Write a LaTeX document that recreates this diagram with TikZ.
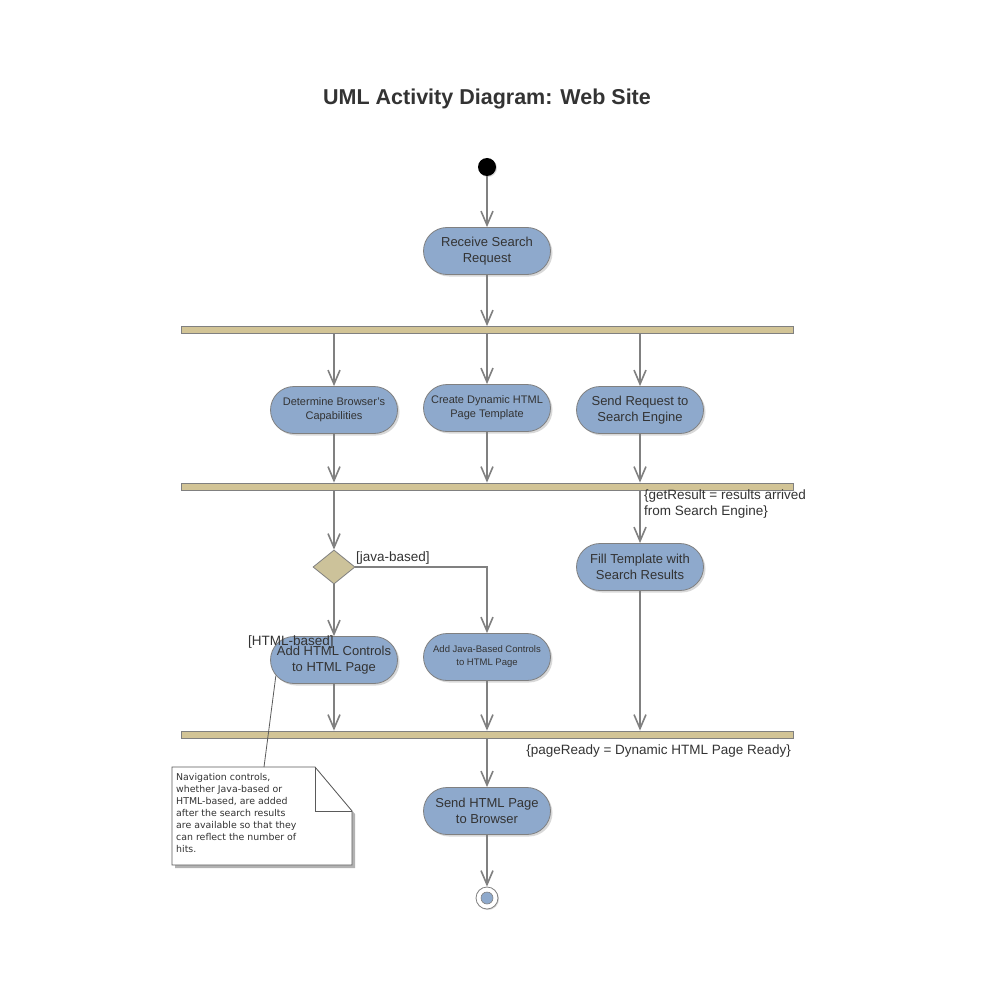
\documentclass[tikz,border=0pt]{standalone}
\usepackage{fontspec}
\setmainfont{Liberation Sans}
\newfontfamily\notefont{DejaVu Sans}
\usetikzlibrary{arrows.meta,shapes.misc,shapes.geometric,shadows}
\definecolor{actblue}{RGB}{142,169,204}
\definecolor{bartan}{RGB}{210,196,150}
\definecolor{dectan}{RGB}{204,194,154}
\definecolor{edgegray}{RGB}{128,128,128}
\definecolor{textgray}{RGB}{51,51,51}

\begin{document}
\begin{tikzpicture}[x=1pt,y=-1pt,
	flow/.style={draw=edgegray,line width=1.6pt,-{Straight Barb[length=14pt,width=12pt]}},
	activity/.style={rounded rectangle,draw=edgegray,line width=0.8pt,fill=actblue,
		minimum width=131pt,minimum height=47pt,inner sep=2pt,align=center,text=textgray,
		font=\fontsize{13}{16}\selectfont,
		drop shadow={opacity=0.3,shadow xshift=2pt,shadow yshift=-2pt}},
	smalltext/.style={font=\fontsize{11}{14}\selectfont},
	tinytext/.style={font=\fontsize{9.5}{13}\selectfont},
	bar/.style={rectangle,draw=edgegray,fill=bartan,minimum width=612pt,minimum height=7pt,
		inner sep=0pt,line width=0.8pt},
	guard/.style={text=textgray,inner sep=0pt,font=\fontsize{13.5}{16}\selectfont}]
	\fill[white] (0,0) rectangle (1000,1000);
	\useasboundingbox (0,0) rectangle (1000,1000);
	
	\node[text=textgray,font=\bfseries\fontsize{21.5}{24}\selectfont] (title) at (487,99) {UML Activity Diagram: Web Site};
	
	\node[circle,fill=black,minimum size=18pt,inner sep=0pt,drop shadow={opacity=0.3,shadow xshift=1pt,shadow yshift=-1pt}] (start) at (487,167) {};
	\node[activity] (receive) at (487,251) {Receive Search\\Request};
	\node[bar] (bar1) at (487,330) {};
	
	\node[activity,smalltext] (determine) at (334,410) {Determine Browser's\\Capabilities};
	\node[activity,smalltext] (create) at (487,408) {Create Dynamic HTML\\Page Template};
	\node[activity] (sendreq) at (640,410) {Send Request to\\Search Engine};
	\node[bar] (bar2) at (487,486.5) {};
	
	\node[diamond,draw=edgegray,fill=dectan,line width=0.8pt,minimum width=42pt,minimum height=34pt,inner sep=0pt,aspect=1.25] (dec) at (334,567) {};
	\node[activity] (fill) at (640,567) {Fill Template with\\Search Results};
	\node[activity] (addhtml) at (334,660) {Add HTML Controls\\to HTML Page};
	\node[activity,tinytext] (addjava) at (487,657) {Add Java-Based Controls\\to HTML Page};
	\node[bar] (bar3) at (487,734.5) {};
	
	\node[activity] (sendpage) at (487,811) {Send HTML Page\\to Browser};
	\node[circle,draw=edgegray,fill=white,line width=0.8pt,minimum size=22pt,inner sep=0pt,drop shadow={opacity=0.3,shadow xshift=1pt,shadow yshift=-1pt}] (final) at (487,898) {};
	\node[circle,draw=edgegray,fill=actblue,line width=0.6pt,minimum size=12pt,inner sep=0pt] at (final) {};
	
	\draw[flow] (start) -- (receive);
	\draw[flow] (receive) -- (receive |- bar1.north);
	\draw[flow] (bar1.south -| determine) -- (determine);
	\draw[flow] (bar1.south -| create) -- (create);
	\draw[flow] (bar1.south -| sendreq) -- (sendreq);
	\draw[flow] (determine) -- (determine |- bar2.north);
	\draw[flow] (create) -- (create |- bar2.north);
	\draw[flow] (sendreq) -- (sendreq |- bar2.north);
	\draw[flow] (bar2.south -| dec) -- (dec);
	\draw[flow] (bar2.south -| fill) -- (fill);
	\draw[flow] (dec) -- (addhtml);
	\draw[flow] (dec.east) -| (addjava);
	\draw[flow] (addhtml) -- (addhtml |- bar3.north);
	\draw[flow] (addjava) -- (addjava |- bar3.north);
	\draw[flow] (fill) -- (fill |- bar3.north);
	\draw[flow] (bar3.south -| sendpage) -- (sendpage);
	\draw[flow] (sendpage) -- (final);
	
	\node[guard,anchor=north west,align=left] (getresult) at (644,490) {\{getResult = results arrived\\from Search Engine\}};
	\node[guard,anchor=west] (javabased) at (356,558) {[java-based]};
	\node[guard,anchor=west] (htmlbased) at (248,642) {[HTML-based]};
	\node[guard,anchor=east] (pageready) at (791,751) {\{pageReady = Dynamic HTML Page Ready\}};
	
	\fill[black,opacity=0.3] (175,770) -- (318,770) -- (355,814) -- (355,868) -- (175,868) -- cycle;
	\draw[edgegray!70!black,fill=white,line width=0.8pt] (172,767) -- (315,767) -- (352,811) -- (352,865) -- (172,865) -- cycle;
	\draw[edgegray!70!black,line width=0.8pt] (315,767) -- (315,811) -- (352,811);
	\node[anchor=north west,align=left,inner sep=0pt,text=textgray,font=\notefont\fontsize{9.4}{12}\selectfont] (note) at (176,773) {Navigation controls,\\whether Java-based or\\HTML-based, are added\\after the search results\\are available so that they\\can reflect the number of\\hits.};
	\coordinate (notetop) at (264,767);
	\draw[edgegray!70!black,line width=0.8pt] (notetop) -- (addhtml.195);
\end{tikzpicture}
\end{document}
